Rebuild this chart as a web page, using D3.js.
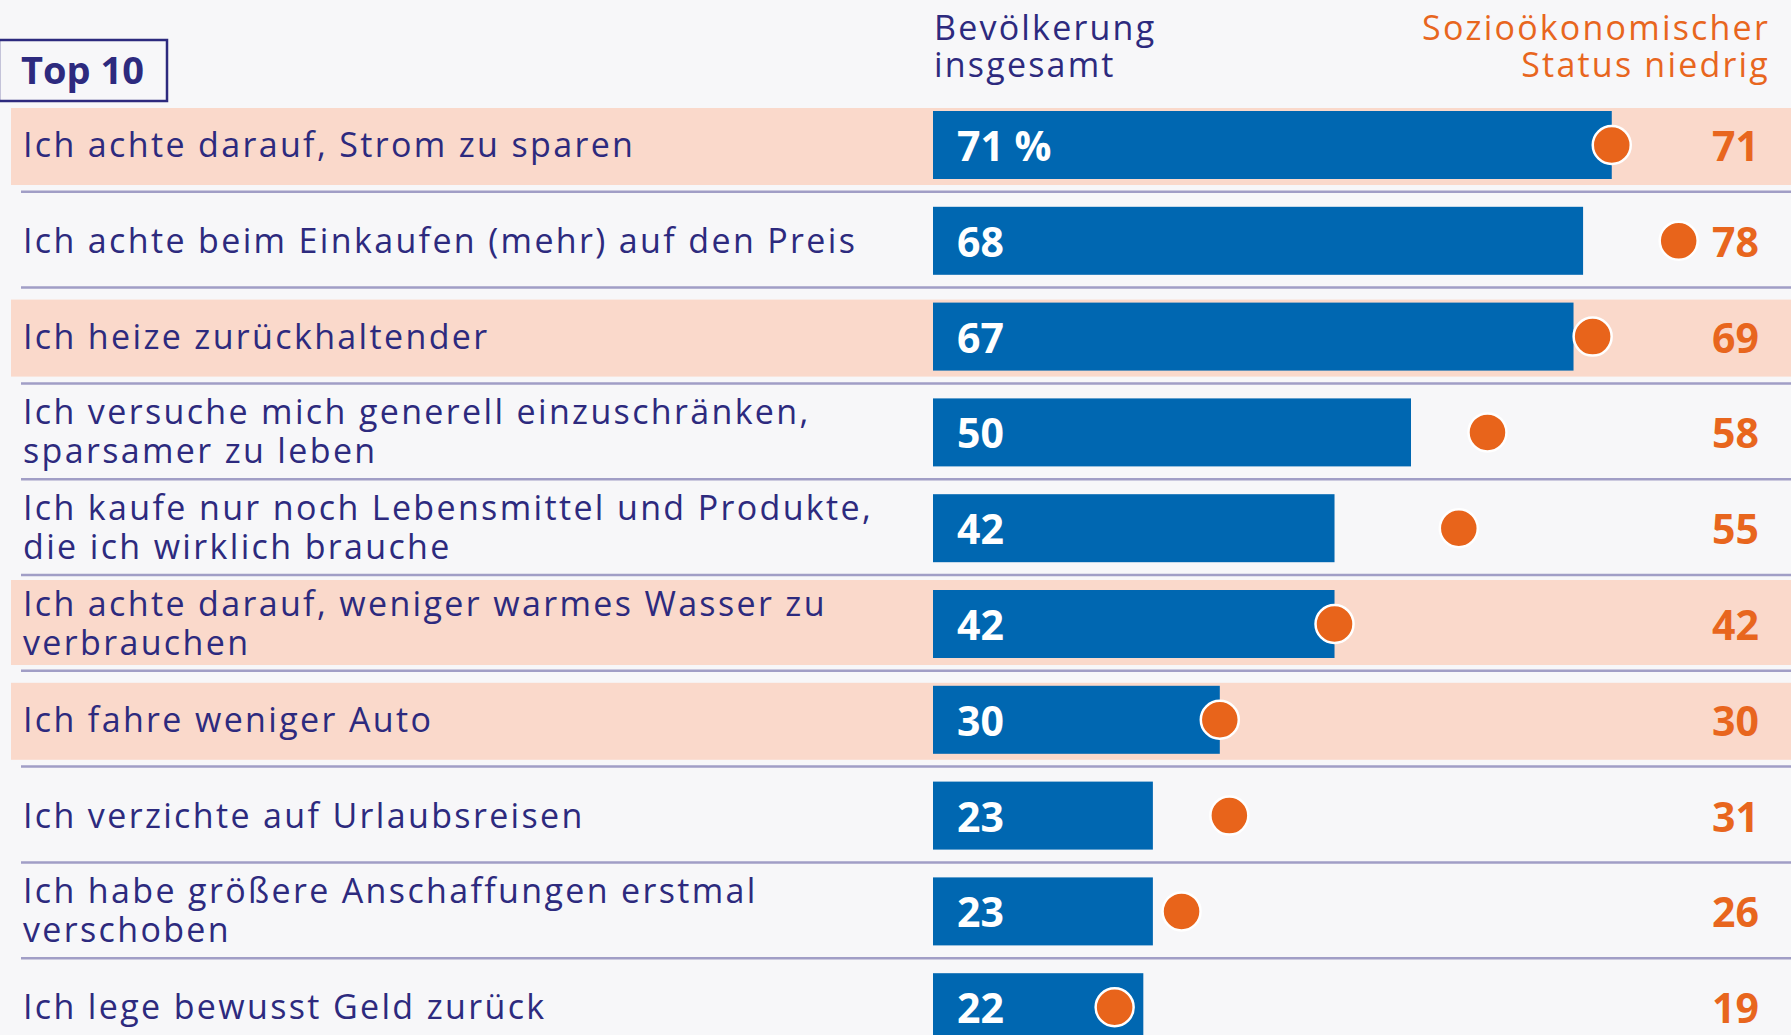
<!DOCTYPE html>
<html>
<head>
<meta charset="utf-8">
<script src="https://cdn.jsdelivr.net/npm/d3@7"></script>
<style>
  html, body { margin: 0; padding: 0; background: #f7f7f9; }
  svg { display: block; }
</style>
</head>
<body>
<svg id="chart" width="1791" height="1035"></svg>
<script>
// ---- data ----
const categories = [
  "Ich achte darauf, Strom zu sparen",
  "Ich achte beim Einkaufen (mehr) auf den Preis",
  "Ich heize zurückhaltender",
  "Ich versuche mich generell einzuschränken,\nsparsamer zu leben",
  "Ich kaufe nur noch Lebensmittel und Produkte,\ndie ich wirklich brauche",
  "Ich achte darauf, weniger warmes Wasser zu\nverbrauchen",
  "Ich fahre weniger Auto",
  "Ich verzichte auf Urlaubsreisen",
  "Ich habe größere Anschaffungen erstmal\nverschoben",
  "Ich lege bewusst Geld zurück"
];
const totalValues = [71, 68, 67, 50, 42, 42, 30, 23, 23, 22];
const lowStatusValues = [71, 78, 69, 58, 55, 42, 30, 31, 26, 19];
const highlighted = [true, false, true, false, false, true, true, false, false, false];
const headerTotal = ["Bevölkerung", "insgesamt"];
const headerLow = ["Sozioökonomischer", "Status niedrig"];
const boxLabel = "Top 10";

// ---- style ----
const W = 1791, H = 1035;
const navy = "#2d2a7e";
const orange = "#e8661e";
const blue = "#0067b1";
const peach = "#fad9cb";
const sepColor = "#a19ec6";
const font = "'Open Sans', 'Lato', sans-serif";

const svg = d3.select("#chart");
svg.append("rect").attr("width", W).attr("height", H).attr("fill", "#f7f7f9");

const x = d3.scaleLinear().domain([0, 100]).range([933, 1889]);
const y = d3.scaleBand().domain(d3.range(categories.length)).range([96, 96 + 95.8 * categories.length]).paddingInner(0);

const rows = svg.append("g").selectAll("g.row")
  .data(categories.map((c, i) => ({ label: c.split("\n"), total: totalValues[i], low: lowStatusValues[i], hl: highlighted[i], i })))
  .join("g").attr("class", "row")
  .attr("transform", d => `translate(0,${y(d.i)})`);

const bw = y.bandwidth();

// highlight bands
rows.filter(d => d.hl).append("rect")
  .attr("x", 11).attr("width", W - 11)
  .attr("y", d => d.label.length > 1 ? 5 : 12)
  .attr("height", d => d.label.length > 1 ? 85 : 77)
  .attr("fill", peach);

// separators
rows.filter(d => d.i < categories.length - 1).append("line")
  .attr("x1", 21).attr("x2", W)
  .attr("y1", bw).attr("y2", bw)
  .attr("stroke", sepColor).attr("stroke-width", 2.5);

const barTop = 15, barH = 68, cy = barTop + barH / 2;

// bars
rows.append("rect")
  .attr("x", x(0)).attr("y", barTop)
  .attr("width", d => x(d.total) - x(0))
  .attr("height", barH)
  .attr("fill", blue);

// bar values
rows.append("text")
  .attr("x", x(0) + 24).attr("y", cy + 16)
  .attr("font-family", font).attr("font-weight", 700).attr("font-size", 41)
  .attr("fill", "#ffffff")
  .text(d => d.i === 0 ? d.total + " %" : d.total);

// dots
rows.append("circle")
  .attr("cx", d => x(d.low)).attr("cy", cy).attr("r", 19)
  .attr("fill", "#e8641b").attr("stroke", "#ffffff").attr("stroke-width", 2.5);

// right values
rows.append("text")
  .attr("x", 1759).attr("y", cy + 16)
  .attr("text-anchor", "end")
  .attr("font-family", font).attr("font-weight", 700).attr("font-size", 41)
  .attr("fill", orange)
  .text(d => d.low);

// labels
rows.append("text")
  .attr("font-family", font).attr("font-size", 34).attr("fill", navy)
  .attr("letter-spacing", 2.35)
  .each(function(d) {
    const t = d3.select(this);
    const ys = d.label.length > 1 ? [cy - 8, cy + 31] : [cy + 12];
    d.label.forEach((line, k) => {
      t.append("tspan").attr("x", 23).attr("y", ys[k]).text(line);
    });
  });

// headers
const h1 = svg.append("text").attr("font-family", font).attr("font-size", 34).attr("fill", navy).attr("letter-spacing", 2.2);
headerTotal.forEach((l, k) => h1.append("tspan").attr("x", 934).attr("y", 40 + k * 37).text(l));
const h2 = svg.append("text").attr("font-family", font).attr("font-size", 34).attr("fill", orange).attr("text-anchor", "end").attr("letter-spacing", 2.2);
headerLow.forEach((l, k) => h2.append("tspan").attr("x", 1770).attr("y", 40 + k * 37).text(l));

// top 10 box
svg.append("rect").attr("x", -1).attr("y", 40).attr("width", 168).attr("height", 61)
  .attr("fill", "none").attr("stroke", navy).attr("stroke-width", 2.5);
svg.append("text").attr("x", 21).attr("y", 84)
  .attr("font-family", font).attr("font-weight", 700).attr("font-size", 38).attr("fill", navy)
  .text(boxLabel);
</script>
</body>
</html>
